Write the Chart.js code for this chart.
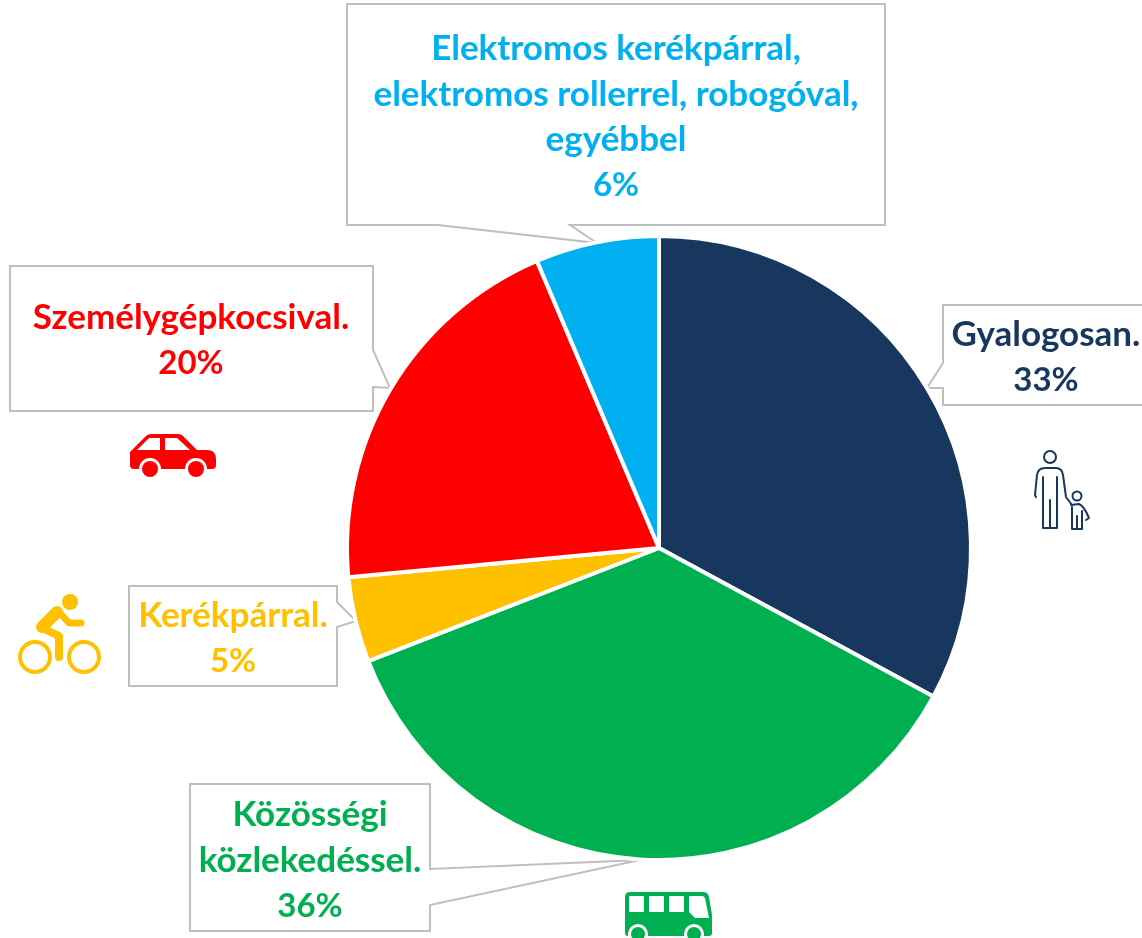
<!DOCTYPE html>
<html>
<head>
<meta charset="utf-8">
<script src="https://cdn.jsdelivr.net/npm/chart.js@4"></script>
<style>
html, body { margin: 0; padding: 0; background: #fff; overflow: hidden; }
#wrap { position: relative; width: 1142px; height: 938px; }
</style>
</head>
<body>
<div id="wrap"><canvas id="modalSplitChart"></canvas></div>
<script>
var categories = ['Gyalogosan.', 'Közösségi közlekedéssel.', 'Kerékpárral.', 'Személygépkocsival.', 'Elektromos kerékpárral, elektromos rollerrel, robogóval, egyébbel'];
var shares = [32.9, 36.2, 4.4, 20.1, 6.4];
var shareLabels = ['33%', '36%', '5%', '20%', '6%'];
var sliceColors = ['#17375E', '#00B050', '#FFC000', '#FF0000', '#00B0F0'];

// callout outlines, the pointer is part of the polygon
var callouts = [
	{ color: sliceColors[0], lines: ['Gyalogosan.', shareLabels[0]], x: 1046, y: 335, outline: [[943, 305], [1143, 305], [1143, 405], [943, 405], [943, 388], [927, 388], [943, 363]] },
	{ color: sliceColors[1], lines: ['Közösségi', 'közlekedéssel.', shareLabels[1]], x: 310, y: 815, outline: [[190, 784], [430, 784], [430, 869], [640, 860], [430, 905], [430, 931], [190, 931]] },
	{ color: sliceColors[2], lines: ['Kerékpárral.', shareLabels[2]], x: 233, y: 616, outline: [[129, 586], [337, 586], [337, 602], [356, 621], [337, 627], [337, 686], [129, 686]] },
	{ color: sliceColors[3], lines: ['Személygépkocsival.', shareLabels[3]], x: 191, y: 318, outline: [[10, 266], [373, 266], [373, 350], [390, 388], [373, 387], [373, 411], [10, 411]] },
	{ color: sliceColors[4], lines: ['Elektromos kerékpárral,', 'elektromos rollerrel, robogóval,', 'egyébbel', shareLabels[4]], x: 616, y: 49, outline: [[347, 4], [885, 4], [885, 225], [570, 225], [597, 243], [438, 225], [347, 225]] }
];

function drawCallouts(ctx) {
	callouts.forEach(function (c) {
		ctx.beginPath();
		c.outline.forEach(function (p, i) {
			if (i == 0) ctx.moveTo(p[0], p[1]); else ctx.lineTo(p[0], p[1]);
		});
		ctx.closePath();
		ctx.fillStyle = '#fff';
		ctx.fill();
		ctx.strokeStyle = '#BFBFBF';
		ctx.lineWidth = 2;
		ctx.stroke();
	});
}

function drawCalloutText(ctx) {
	ctx.textAlign = 'center';
	ctx.textBaseline = 'middle';
	callouts.forEach(function (c) {
		ctx.fillStyle = c.color;
		c.lines.forEach(function (line, i) {
			// Lato digits run wide, the percent line needs a smaller size
			ctx.font = i == c.lines.length - 1 ? 'bold 33px Lato' : 'bold 35px Lato';
			ctx.fillText(line, c.x, c.y + i * 45.5);
		});
	});
}

function poly(ctx, pts) {
	ctx.beginPath();
	pts.forEach(function (p, i) {
		if (i == 0) ctx.moveTo(p[0], p[1]); else ctx.lineTo(p[0], p[1]);
	});
	ctx.closePath();
}

function circle(ctx, x, y, r) {
	ctx.beginPath();
	ctx.arc(x, y, r, 0, Math.PI * 2);
}

function drawCar(ctx) {
	var red = sliceColors[3];
	ctx.fillStyle = red;
	ctx.beginPath();
	ctx.moveTo(130, 452);
	ctx.lineTo(146, 436);
	ctx.quadraticCurveTo(148, 434, 151, 434);
	ctx.lineTo(178, 434);
	ctx.quadraticCurveTo(181, 434, 183, 436);
	ctx.lineTo(197, 450);
	ctx.lineTo(207, 450);
	ctx.quadraticCurveTo(216, 450, 216, 459);
	ctx.lineTo(216, 465);
	ctx.quadraticCurveTo(216, 469, 212, 469);
	ctx.lineTo(134, 469);
	ctx.quadraticCurveTo(130, 469, 130, 465);
	ctx.closePath();
	ctx.fill();
	ctx.fillStyle = '#fff';
	poly(ctx, [[137, 450], [149, 438], [160, 438], [160, 450]]);
	ctx.fill();
	poly(ctx, [[165, 438], [177, 438], [190, 450], [165, 450]]);
	ctx.fill();
	[150, 196].forEach(function (x) {
		ctx.fillStyle = '#fff';
		circle(ctx, x, 469, 11);
		ctx.fill();
		ctx.fillStyle = red;
		circle(ctx, x, 469, 8);
		ctx.fill();
	});
}

function drawCyclist(ctx) {
	var yellow = sliceColors[2];
	ctx.strokeStyle = yellow;
	ctx.fillStyle = yellow;
	ctx.lineCap = 'round';
	ctx.lineJoin = 'round';
	ctx.lineWidth = 4;
	[35, 84].forEach(function (x) {
		circle(ctx, x, 657, 15);
		ctx.stroke();
	});
	circle(ctx, 70, 602, 8);
	ctx.fill();
	ctx.lineWidth = 8;
	ctx.beginPath();
	ctx.moveTo(59, 657);
	ctx.lineTo(59, 636);
	ctx.lineTo(42, 628);
	ctx.stroke();
	ctx.lineWidth = 12;
	ctx.beginPath();
	ctx.moveTo(42, 627);
	ctx.lineTo(57, 612);
	ctx.stroke();
	ctx.lineWidth = 7;
	ctx.beginPath();
	ctx.moveTo(58, 611);
	ctx.lineTo(69, 623);
	ctx.lineTo(81, 623);
	ctx.stroke();
}

function drawWalkers(ctx) {
	ctx.strokeStyle = sliceColors[0];
	ctx.lineWidth = 2;
	ctx.lineCap = 'round';
	ctx.lineJoin = 'round';
	circle(ctx, 1050, 457, 6);
	ctx.stroke();
	ctx.beginPath();
	ctx.moveTo(1036, 497);
	ctx.lineTo(1035, 495);
	ctx.lineTo(1037, 475);
	ctx.quadraticCurveTo(1038, 468, 1045, 468);
	ctx.lineTo(1056, 468);
	ctx.quadraticCurveTo(1062, 468, 1063, 475);
	ctx.lineTo(1066, 497);
	ctx.lineTo(1072, 505);
	ctx.stroke();
	ctx.beginPath();
	ctx.moveTo(1043, 477);
	ctx.lineTo(1043, 528);
	ctx.lineTo(1057, 528);
	ctx.lineTo(1057, 477);
	ctx.moveTo(1050, 500);
	ctx.lineTo(1050, 528);
	ctx.stroke();
	circle(ctx, 1077, 496, 4.5);
	ctx.stroke();
	ctx.beginPath();
	ctx.moveTo(1072, 507);
	ctx.lineTo(1072, 529);
	ctx.lineTo(1082, 529);
	ctx.lineTo(1082, 511);
	ctx.moveTo(1077, 516);
	ctx.lineTo(1077, 529);
	ctx.moveTo(1071, 505);
	ctx.lineTo(1079, 504);
	ctx.quadraticCurveTo(1084, 506, 1089, 518);
	ctx.lineTo(1086, 520);
	ctx.stroke();
}

function drawBus(ctx) {
	var green = sliceColors[1];
	ctx.fillStyle = green;
	ctx.beginPath();
	ctx.moveTo(625, 897);
	ctx.quadraticCurveTo(625, 892, 630, 892);
	ctx.lineTo(703, 892);
	ctx.quadraticCurveTo(708, 892, 709, 897);
	ctx.lineTo(712, 915);
	ctx.lineTo(712, 933);
	ctx.quadraticCurveTo(712, 936, 709, 936);
	ctx.lineTo(628, 936);
	ctx.quadraticCurveTo(625, 936, 625, 933);
	ctx.closePath();
	ctx.fill();
	ctx.fillStyle = '#fff';
	[629, 649, 669].forEach(function (x) {
		ctx.fillRect(x, 896, 15, 16);
	});
	poly(ctx, [[689, 896], [703, 896], [705, 898], [709, 918], [695, 918], [689, 912]]);
	ctx.fill();
	[638, 694].forEach(function (x) {
		ctx.fillStyle = '#fff';
		circle(ctx, x, 934, 10);
		ctx.fill();
		ctx.fillStyle = green;
		circle(ctx, x, 934, 7);
		ctx.fill();
	});
}

var calloutPlugin = {
	id: 'callouts',
	beforeDatasetsDraw: function (chart) {
		var ctx = chart.ctx;
		ctx.save();
		drawCallouts(ctx);
		ctx.restore();
	},
	afterDatasetsDraw: function (chart) {
		var ctx = chart.ctx;
		ctx.save();
		drawCalloutText(ctx);
		drawCar(ctx);
		drawCyclist(ctx);
		drawWalkers(ctx);
		drawBus(ctx);
		ctx.restore();
	}
};

new Chart(document.getElementById('modalSplitChart'), {
	type: 'pie',
	data: {
		labels: categories,
		datasets: [{
			data: shares,
			backgroundColor: sliceColors,
			borderColor: '#fff',
			borderWidth: 4
		}]
	},
	options: {
		responsive: true,
		maintainAspectRatio: false,
		animation: false,
		layout: { padding: { left: 345, right: 169, top: 234, bottom: 76 } },
		plugins: { legend: { display: false }, tooltip: { enabled: false } }
	},
	plugins: [calloutPlugin]
});
</script>
</body>
</html>
